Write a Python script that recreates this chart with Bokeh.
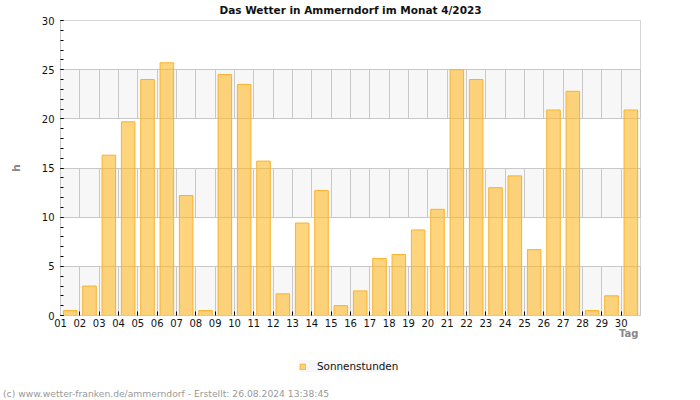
from bokeh.plotting import figure
from bokeh.layouts import column
from bokeh.models import (FixedTicker, SingleIntervalTicker, Legend, LegendItem,
                          ColumnDataSource, Range1d, Div, Title)
from bokeh.embed import file_html
from bokeh.resources import INLINE

# ---- data ----
days = ["01", "02", "03", "04", "05", "06", "07", "08", "09", "10",
        "11", "12", "13", "14", "15", "16", "17", "18", "19", "20",
        "21", "22", "23", "24", "25", "26", "27", "28", "29", "30"]
sonnenstunden = [0.5, 3.0, 16.3, 19.7, 24.0, 25.7, 12.2, 0.5, 24.5, 23.5,
                 15.7, 2.2, 9.4, 12.7, 1.0, 2.5, 5.8, 6.2, 8.7, 10.8,
                 25.0, 24.0, 13.0, 14.2, 6.7, 20.9, 22.8, 0.5, 2.0, 20.9]
title_text = "Das Wetter in Ammerndorf im Monat 4/2023"
y_label = "h"
x_label = "Tag"
series_name = "Sonnenstunden"
footer_text = "(c) www.wetter-franken.de/ammerndorf - Erstellt: 26.08.2024 13:38:45"

n = len(days)
centers = [i + 0.5 for i in range(n)]
src = ColumnDataSource(dict(x=centers, top=sonnenstunden, day=days))

BAR_FILL = "#fdb827"
BAR_LINE = "#f8b22e"

# ---------- main chart ----------
p = figure(width=700, height=343,
           min_border_left=60, min_border_right=60,
           min_border_top=20, min_border_bottom=28,
           x_range=Range1d(0, n), y_range=Range1d(0, 30),
           output_backend="svg", toolbar_location=None, tools="")
p.background_fill_color = "#f7f7f7"
p.border_fill_color = "white"
p.outline_line_color = "#c8c8c8"

p.title.text = title_text
p.title.align = "center"
p.title.vertical_align = "top"
p.title.text_font = "DejaVu Sans"
p.title.text_font_style = "bold"
p.title.text_font_size = "10.5px"
p.title.text_color = "#111111"
p.title.standoff = 6

p.xgrid.ticker = FixedTicker(ticks=list(range(n + 1)))
p.xgrid.grid_line_color = "#c8c8c8"
p.ygrid.ticker = SingleIntervalTicker(interval=5)
p.ygrid.grid_line_color = "#c8c8c8"
p.ygrid.band_fill_color = "white"
p.ygrid.band_fill_alpha = 1.0

p.yaxis.ticker = SingleIntervalTicker(interval=5, num_minor_ticks=5)
p.yaxis.axis_line_color = "#c8c8c8"
p.yaxis.major_tick_in = 3
p.yaxis.major_tick_out = 0
p.yaxis.minor_tick_in = 3
p.yaxis.minor_tick_out = 0
p.yaxis.major_tick_line_color = "black"
p.yaxis.minor_tick_line_color = "black"
p.yaxis.major_label_standoff = 6
p.yaxis.major_label_text_font = "DejaVu Sans"
p.yaxis.major_label_text_font_size = "10px"
p.yaxis.major_label_text_color = "#111111"
p.yaxis.axis_label = y_label
p.yaxis.axis_label_standoff = 16
p.yaxis.axis_label_text_font = "DejaVu Sans"
p.yaxis.axis_label_text_font_style = "bold"
p.yaxis.axis_label_text_font_size = "11px"
p.yaxis.axis_label_text_color = "#888888"

p.xaxis.ticker = FixedTicker(ticks=list(range(n)))
p.xaxis.major_label_overrides = {i: d for i, d in enumerate(days)}
p.xaxis.axis_line_color = "#c8c8c8"
p.xaxis.major_tick_in = 4
p.xaxis.major_tick_out = 0
p.xaxis.minor_tick_line_color = None
p.xaxis.major_tick_line_color = "black"
p.xaxis.major_label_standoff = 3
p.xaxis.major_label_text_font = "DejaVu Sans"
p.xaxis.major_label_text_font_size = "10px"
p.xaxis.major_label_text_color = "#111111"

bars = p.vbar(x="x", top="top", width=0.7, source=src,
              fill_color=BAR_FILL, fill_alpha=0.6,
              line_color=BAR_LINE, line_width=1)

# "Tag" right-aligned under the end of the x axis
tag = Title(text=x_label, align="right", vertical_align="top", offset=2,
            text_font="DejaVu Sans", text_font_style="bold",
            text_font_size="10px", text_color="#888888")
try:
    tag.standoff = -3
except Exception:
    tag.standoff = 0
p.add_layout(tag, "below")

# ---------- legend strip ----------
H2 = 44
p2 = figure(width=700, height=H2, min_border=0,
            min_border_left=0, min_border_right=0, min_border_top=0, min_border_bottom=0,
            x_range=Range1d(0, 700), y_range=Range1d(0, H2),
            x_axis_type=None, y_axis_type=None,
            output_backend="svg", toolbar_location=None, tools="")
p2.outline_line_color = None
p2.background_fill_color = "white"
p2.border_fill_color = "white"
p2.xgrid.visible = False
p2.ygrid.visible = False
p2.extra_x_ranges = {"hidden_x": Range1d(1000, 1100)}
p2.extra_y_ranges = {"hidden_y": Range1d(1000, 1100)}
swatch = p2.vbar(x="x", top="top", width=0.7, source=src,
                 x_range_name="hidden_x", y_range_name="hidden_y",
                 fill_color=BAR_FILL, fill_alpha=0.6,
                 line_color=BAR_LINE, line_width=1)

legend = Legend(items=[LegendItem(label=series_name, renderers=[swatch])],
                location=(239, 15), orientation="horizontal",
                background_fill_color="#f7f7f7", background_fill_alpha=1.0,
                border_line_color=None, padding=5, margin=0,
                glyph_width=7, glyph_height=7, label_standoff=11,
                label_text_font="DejaVu Sans", label_text_font_size="10.4px",
                label_text_color="#111111", label_height=12)
p2.add_layout(legend, "center")

footer = Div(text=footer_text, width=700, height=13, margin=0,
             styles={"color": "#999999", "font-family": "DejaVu Sans",
                     "font-size": "9.2px", "line-height": "13px",
                     "padding-left": "3px", "white-space": "nowrap"})

layout = column(p, p2, footer, spacing=0)
open("out.html", "w").write(file_html(layout, INLINE))
